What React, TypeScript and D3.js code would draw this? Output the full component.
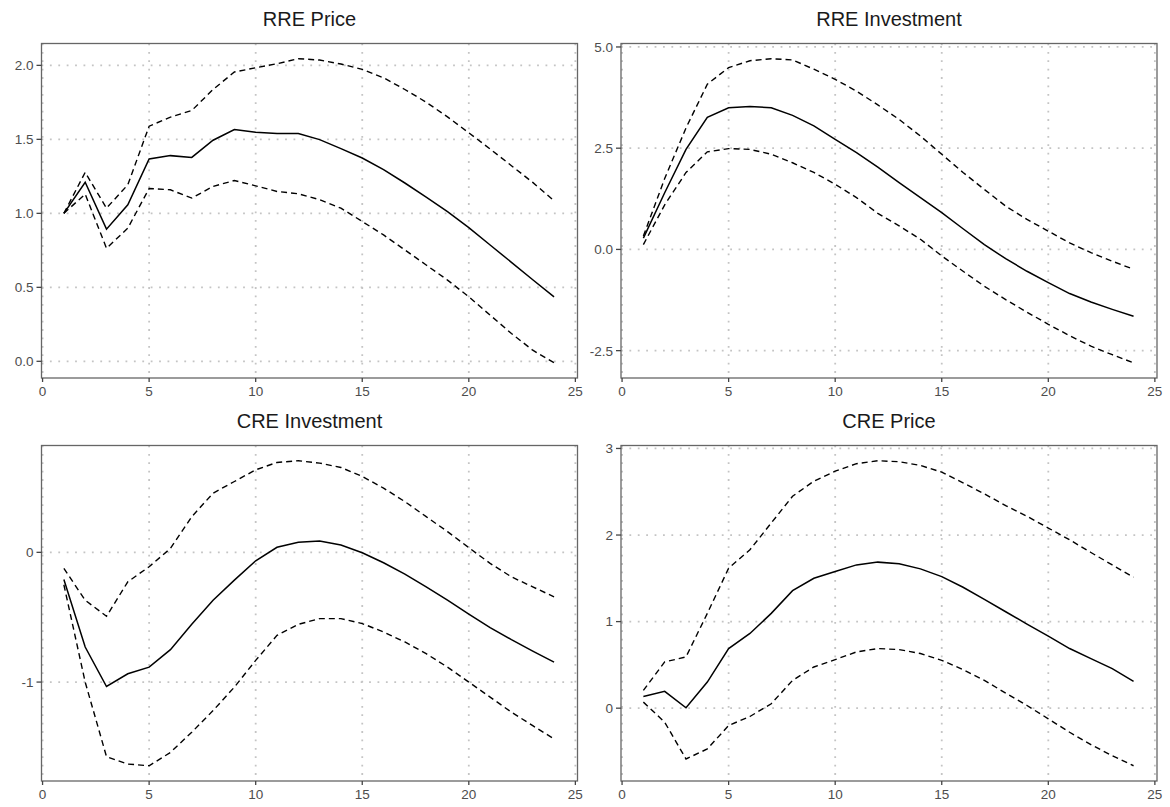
import React from "react";
import * as d3 from "d3";

const horizon = d3.range(1, 25);

const titles = ["RRE Price", "RRE Investment", "CRE Investment", "CRE Price"];

const rrePriceMid = [1.0, 1.21, 0.893, 1.058, 1.367, 1.39, 1.378, 1.494, 1.566, 1.548, 1.54, 1.539, 1.498, 1.437, 1.374, 1.295, 1.205, 1.11, 1.012, 0.904, 0.786, 0.669, 0.551, 0.436];
const rrePriceUp = [1.0, 1.277, 1.035, 1.193, 1.589, 1.65, 1.695, 1.837, 1.955, 1.984, 2.011, 2.045, 2.036, 2.009, 1.973, 1.916, 1.837, 1.751, 1.652, 1.544, 1.435, 1.322, 1.209, 1.085];
const rrePriceLo = [1.0, 1.13, 0.764, 0.9, 1.168, 1.159, 1.103, 1.182, 1.222, 1.186, 1.148, 1.132, 1.092, 1.035, 0.945, 0.854, 0.753, 0.651, 0.549, 0.436, 0.312, 0.188, 0.075, -0.01];

const rreInvMid = [0.28, 1.4, 2.47, 3.26, 3.5, 3.53, 3.5, 3.31, 3.05, 2.72, 2.39, 2.03, 1.65, 1.28, 0.91, 0.51, 0.12, -0.23, -0.54, -0.82, -1.09, -1.3, -1.48, -1.65];
const rreInvUp = [0.33, 1.75, 3.0, 4.08, 4.49, 4.66, 4.71, 4.68, 4.45, 4.2, 3.91, 3.57, 3.21, 2.8, 2.35, 1.9, 1.48, 1.07, 0.74, 0.45, 0.16, -0.08, -0.29, -0.49];
const rreInvLo = [0.12, 1.1, 1.9, 2.41, 2.49, 2.47, 2.35, 2.14, 1.9, 1.61, 1.28, 0.89, 0.58, 0.25, -0.16, -0.54, -0.91, -1.24, -1.55, -1.85, -2.13, -2.39, -2.6, -2.8];

const creInvMid = [-0.21, -0.73, -1.034, -0.936, -0.885, -0.75, -0.555, -0.369, -0.214, -0.065, 0.039, 0.077, 0.087, 0.056, -0.003, -0.08, -0.168, -0.266, -0.369, -0.477, -0.58, -0.673, -0.761, -0.846];
const creInvUp = [-0.124, -0.369, -0.493, -0.227, -0.111, 0.03, 0.275, 0.456, 0.546, 0.636, 0.693, 0.706, 0.688, 0.654, 0.585, 0.495, 0.391, 0.275, 0.16, 0.036, -0.085, -0.189, -0.266, -0.343];
const creInvLo = [-0.25, -1.0, -1.575, -1.632, -1.645, -1.542, -1.387, -1.22, -1.039, -0.833, -0.64, -0.555, -0.511, -0.511, -0.549, -0.614, -0.691, -0.781, -0.885, -1.0, -1.116, -1.232, -1.336, -1.438];

const crePriceMid = [0.136, 0.194, 0.004, 0.302, 0.689, 0.863, 1.095, 1.357, 1.501, 1.578, 1.655, 1.687, 1.667, 1.609, 1.52, 1.397, 1.257, 1.114, 0.971, 0.832, 0.689, 0.573, 0.457, 0.31];
const crePriceUp = [0.205, 0.534, 0.592, 1.095, 1.617, 1.83, 2.139, 2.448, 2.622, 2.738, 2.824, 2.858, 2.847, 2.804, 2.726, 2.603, 2.476, 2.34, 2.216, 2.081, 1.945, 1.798, 1.655, 1.513];
const crePriceLo = [0.07, -0.162, -0.587, -0.471, -0.2, -0.096, 0.051, 0.321, 0.476, 0.561, 0.65, 0.689, 0.677, 0.631, 0.553, 0.445, 0.321, 0.174, 0.031, -0.123, -0.278, -0.421, -0.549, -0.665];

const xTicks = [0, 5, 10, 15, 20, 25];
const yTicksRrePrice = [0, 0.5, 1.0, 1.5, 2.0];
const yTicksRreInv = [-2.5, 0, 2.5, 5.0];
const yTicksCreInv = [-1, 0];
const yTicksCrePrice = [0, 1, 2, 3];

const panels = [
  { title: titles[0], mid: rrePriceMid, up: rrePriceUp, lo: rrePriceLo, ticks: yTicksRrePrice, fmt: ".1f", col: 0, row: 0 },
  { title: titles[1], mid: rreInvMid, up: rreInvUp, lo: rreInvLo, ticks: yTicksRreInv, fmt: ".1f", col: 1, row: 0 },
  { title: titles[2], mid: creInvMid, up: creInvUp, lo: creInvLo, ticks: yTicksCreInv, fmt: "d", col: 0, row: 1 },
  { title: titles[3], mid: crePriceMid, up: crePriceUp, lo: crePriceLo, ticks: yTicksCrePrice, fmt: "d", col: 1, row: 1 },
];

const colLeft = [41.5, 621];
const colRight = [577.5, 1157];
const rowTop = [43.5, 445.5];
const rowBottom = [378, 781];

const FONT = "'Liberation Sans', Arial, sans-serif";

function Panel({ p }: { p: (typeof panels)[number] }) {
  const x0 = colLeft[p.col];
  const x1 = colRight[p.col];
  const y0 = rowTop[p.row];
  const y1 = rowBottom[p.row];
  const all = [...p.mid, ...p.up, ...p.lo];
  const lo = d3.min(all) as number;
  const hi = d3.max(all) as number;
  const pad = (hi - lo) * 0.05;
  const x = d3.scaleLinear().domain([-0.05, 25.1]).range([x0, x1]);
  const y = d3.scaleLinear().domain([lo - pad, hi + pad]).range([y1, y0]);
  const line = d3
    .line<number>()
    .x((_, i) => x(horizon[i]))
    .y((d) => y(d));
  const fmt = (v: number) => d3.format(p.fmt)(v).replace("−", "-");
  const gridStyle = { stroke: "#c4c4c4", strokeWidth: 1.8, strokeDasharray: "1.8,6.6" };
  return (
    <g>
      <text x={(x0 + x1) / 2} y={y0 - 18} textAnchor="middle" fontSize={20} fontFamily={FONT} fill="#1a1a1a">
        {p.title}
      </text>
      {p.ticks.map((t) => (
        <line key={"gy" + t} x1={x0} x2={x1} y1={y(t)} y2={y(t)} {...gridStyle} />
      ))}
      {xTicks.map((t) => (
        <line key={"gx" + t} x1={x(t)} x2={x(t)} y1={y0} y2={y1} {...gridStyle} />
      ))}
      <path d={line(p.up) || ""} fill="none" stroke="#000" strokeWidth={1.4} strokeDasharray="6,4" />
      <path d={line(p.lo) || ""} fill="none" stroke="#000" strokeWidth={1.4} strokeDasharray="6,4" />
      <path d={line(p.mid) || ""} fill="none" stroke="#000" strokeWidth={1.5} />
      <rect x={x0} y={y0} width={x1 - x0} height={y1 - y0} fill="none" stroke="#666" strokeWidth={1.3} />
      {p.ticks.map((t) => (
        <g key={"ty" + t}>
          <line x1={x0 - 5} x2={x0} y1={y(t)} y2={y(t)} stroke="#444" strokeWidth={1.3} />
          <text x={x0 - 8} y={y(t)} dy="0.36em" textAnchor="end" fontSize={13.5} fontFamily={FONT} fill="#4d4d4d">
            {fmt(t)}
          </text>
        </g>
      ))}
      {xTicks.map((t) => (
        <g key={"tx" + t}>
          <line x1={x(t)} x2={x(t)} y1={y1} y2={y1 + 4} stroke="#444" strokeWidth={1.3} />
          <text x={x(t)} y={y1 + 18} textAnchor="middle" fontSize={13.5} fontFamily={FONT} fill="#4d4d4d">
            {t}
          </text>
        </g>
      ))}
    </g>
  );
}

export default function App() {
  return (
    <svg width={1170} height={807} style={{ position: "absolute", left: 0, top: 0, background: "#fff" }}>
      <rect x={0} y={0} width={1170} height={807} fill="#fff" />
      {panels.map((p) => (
        <Panel key={p.title} p={p} />
      ))}
    </svg>
  );
}
